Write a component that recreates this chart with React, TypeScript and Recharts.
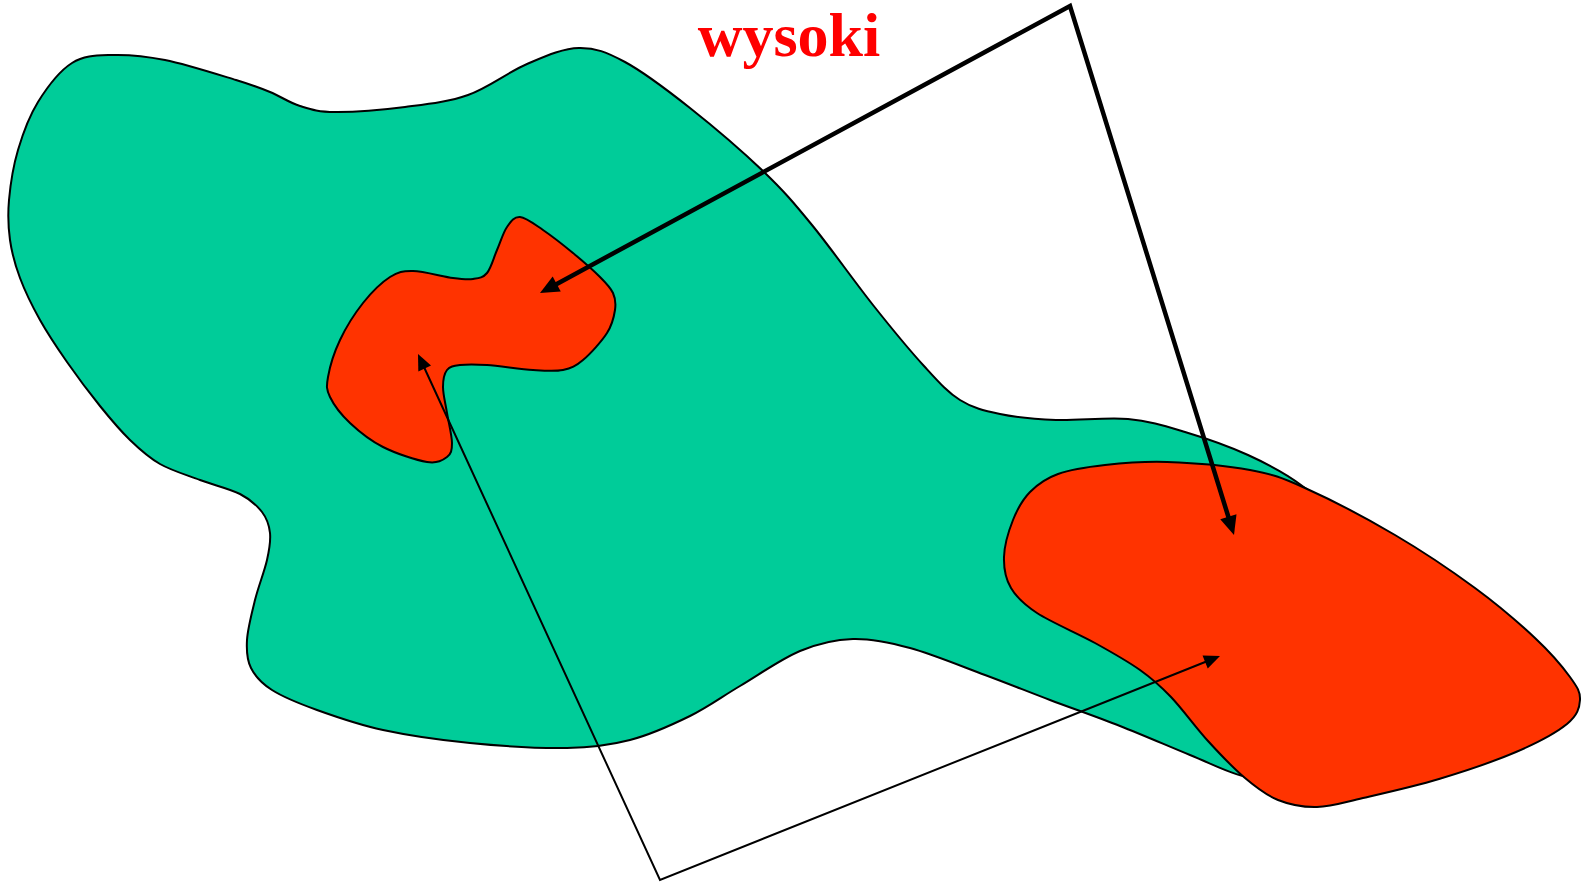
import React from 'react';
import { ScatterChart, Scatter, XAxis, YAxis } from 'recharts';

type P = { x: number; y: number };

// Large green region outline (clockwise, diagram units = px)
const greenOutline: P[] = [
  { x: 72, y: 63 }, { x: 112, y: 55 }, { x: 165, y: 60 }, { x: 236, y: 80 }, { x: 270, y: 92 },
  { x: 300, y: 106 }, { x: 335, y: 112 }, { x: 405, y: 107 }, { x: 468, y: 95 }, { x: 527, y: 64 },
  { x: 579, y: 48 }, { x: 625, y: 62 }, { x: 690, y: 108 }, { x: 764, y: 172 }, { x: 812, y: 225 },
  { x: 873, y: 305 }, { x: 924, y: 366 }, { x: 960, y: 400 }, { x: 1000, y: 414 }, { x: 1056, y: 420 },
  { x: 1128, y: 419 }, { x: 1185, y: 432 }, { x: 1248, y: 455 }, { x: 1301, y: 485 }, { x: 1340, y: 525 },
  { x: 1360, y: 620 }, { x: 1325, y: 725 }, { x: 1280, y: 775 }, { x: 1243, y: 776 }, { x: 1190, y: 755 },
  { x: 1120, y: 726 }, { x: 1050, y: 700 }, { x: 985, y: 675 }, { x: 910, y: 648 }, { x: 853, y: 639 },
  { x: 800, y: 651 }, { x: 740, y: 686 }, { x: 690, y: 716 }, { x: 630, y: 740 }, { x: 567, y: 748 },
  { x: 470, y: 743 }, { x: 383, y: 730 }, { x: 317, y: 710 }, { x: 272, y: 690 }, { x: 251, y: 668 },
  { x: 247, y: 640 }, { x: 255, y: 600 }, { x: 267, y: 560 }, { x: 270, y: 533 }, { x: 262, y: 512 },
  { x: 240, y: 494 }, { x: 200, y: 480 }, { x: 160, y: 464 }, { x: 130, y: 440 }, { x: 100, y: 406 },
  { x: 67, y: 362 }, { x: 40, y: 320 }, { x: 20, y: 278 }, { x: 10, y: 240 }, { x: 9, y: 200 },
  { x: 18, y: 150 }, { x: 38, y: 102 },
];

// Small red region outline
const smallRedOutline: P[] = [
  { x: 520, y: 217 }, { x: 543, y: 230 }, { x: 573, y: 253 }, { x: 600, y: 277 }, { x: 613, y: 293 },
  { x: 615, y: 310 }, { x: 607, y: 333 }, { x: 583, y: 360 }, { x: 563, y: 370 }, { x: 533, y: 370 },
  { x: 487, y: 365 }, { x: 460, y: 365 }, { x: 447, y: 370 }, { x: 443, y: 387 }, { x: 447, y: 413 },
  { x: 452, y: 443 }, { x: 447, y: 457 }, { x: 427, y: 462 }, { x: 383, y: 447 }, { x: 350, y: 423 },
  { x: 330, y: 397 }, { x: 328, y: 377 }, { x: 340, y: 340 }, { x: 363, y: 303 }, { x: 390, y: 277 },
  { x: 413, y: 271 }, { x: 453, y: 278 }, { x: 473, y: 279 }, { x: 487, y: 273 }, { x: 497, y: 250 },
  { x: 507, y: 227 },
];

// Large red region outline
const bigRedOutline: P[] = [
  { x: 1058, y: 474 }, { x: 1105, y: 465 }, { x: 1167, y: 462 }, { x: 1250, y: 470 }, { x: 1305, y: 488 },
  { x: 1395, y: 535 }, { x: 1475, y: 588 }, { x: 1535, y: 638 }, { x: 1570, y: 677 }, { x: 1580, y: 700 },
  { x: 1567, y: 724 }, { x: 1516, y: 752 }, { x: 1439, y: 779 }, { x: 1363, y: 798 }, { x: 1317, y: 807 },
  { x: 1278, y: 800 }, { x: 1245, y: 778 }, { x: 1208, y: 741 }, { x: 1171, y: 697 }, { x: 1140, y: 670 },
  { x: 1095, y: 643 }, { x: 1037, y: 613 }, { x: 1011, y: 588 }, { x: 1004, y: 557 }, { x: 1013, y: 520 },
  { x: 1030, y: 492 },
];

// Quadrilateral arrows: [tip, vertex, tip]
const topArrows: P[] = [{ x: 540, y: 293 }, { x: 1070, y: 6 }, { x: 1234, y: 535 }];
const bottomArrows: P[] = [{ x: 418, y: 354 }, { x: 660, y: 880 }, { x: 1220, y: 656 }];

const labelText = 'wysoki';
const labelPos: P[] = [{ x: 789, y: 56 }];

function closedPath(pts: { x: number; y: number }[]): string {
  const n = pts.length;
  let d = `M${pts[0].x},${pts[0].y}`;
  for (let i = 0; i < n; i++) {
    const p0 = pts[(i - 1 + n) % n];
    const p1 = pts[i];
    const p2 = pts[(i + 1) % n];
    const p3 = pts[(i + 2) % n];
    const c1x = p1.x + (p2.x - p0.x) / 6;
    const c1y = p1.y + (p2.y - p0.y) / 6;
    const c2x = p2.x - (p3.x - p1.x) / 6;
    const c2y = p2.y - (p3.y - p1.y) / 6;
    d += ` C${c1x},${c1y} ${c2x},${c2y} ${p2.x},${p2.y}`;
  }
  return d + ' Z';
}

const blob = (fill: string) => (props: any) => (
  <path d={closedPath(props.points)} fill={fill} stroke="#000" strokeWidth={2} strokeLinejoin="round" />
);

const arrowPair = (width: number, headLen: number, headHalf: number) => (props: any) => {
  const [a, v, b] = props.points;
  const head = (tip: any, from: any) => {
    const dx = tip.x - from.x;
    const dy = tip.y - from.y;
    const L = Math.hypot(dx, dy);
    const ux = dx / L;
    const uy = dy / L;
    const bx = tip.x - ux * headLen;
    const by = tip.y - uy * headLen;
    return {
      base: { x: bx + ux * 2, y: by + uy * 2 },
      poly: `${tip.x},${tip.y} ${bx - uy * headHalf},${by + ux * headHalf} ${bx + uy * headHalf},${by - ux * headHalf}`,
    };
  };
  const ha = head(a, v);
  const hb = head(b, v);
  return (
    <g>
      <path
        d={`M${ha.base.x},${ha.base.y} L${v.x},${v.y} L${hb.base.x},${hb.base.y}`}
        fill="none"
        stroke="#000"
        strokeWidth={width}
        strokeLinejoin="miter"
        strokeMiterlimit={20}
      />
      <polygon points={ha.poly} fill="#000" />
      <polygon points={hb.poly} fill="#000" />
    </g>
  );
};

const Empty = () => <g />;

const LabelShape = (props: any) => (
  <text
    x={props.cx}
    y={props.cy}
    textAnchor="middle"
    fill="#FF0000"
    fontFamily="'Liberation Serif', 'Times New Roman', serif"
    fontWeight="bold"
    fontSize={62}
  >
    {labelText}
  </text>
);

export default function App() {
  return (
    <div style={{ position: 'absolute', left: 0, top: 0, width: 1592, height: 884, background: '#fff' }}>
      <ScatterChart width={1592} height={884} margin={{ top: 0, right: 0, bottom: 0, left: 0 }}>
        <XAxis type="number" dataKey="x" domain={[0, 1592]} hide allowDataOverflow />
        <YAxis type="number" dataKey="y" domain={[0, 884]} reversed hide allowDataOverflow />
        <Scatter data={greenOutline} shape={Empty} line={blob('#00CC99')} isAnimationActive={false} />
        <Scatter data={smallRedOutline} shape={Empty} line={blob('#FF3300')} isAnimationActive={false} />
        <Scatter data={bigRedOutline} shape={Empty} line={blob('#FF3300')} isAnimationActive={false} />
        <Scatter data={topArrows} shape={Empty} line={arrowPair(4.5, 19, 8.5)} isAnimationActive={false} />
        <Scatter data={bottomArrows} shape={Empty} line={arrowPair(2, 16, 7)} isAnimationActive={false} />
        <Scatter data={labelPos} shape={LabelShape} isAnimationActive={false} />
      </ScatterChart>
    </div>
  );
}
